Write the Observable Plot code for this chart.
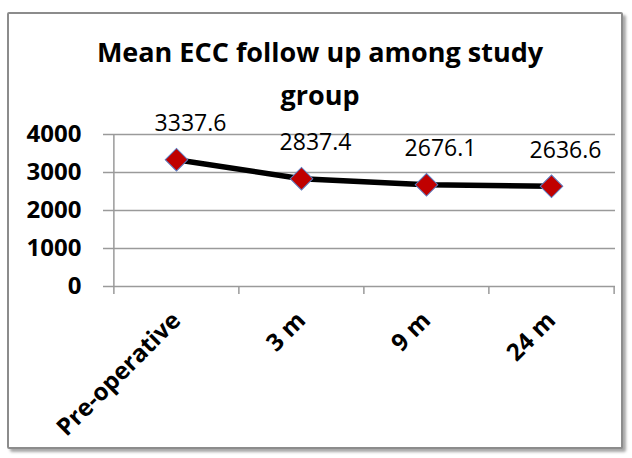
<!DOCTYPE html>
<html>
<head>
<meta charset="utf-8">
<script src="https://cdn.jsdelivr.net/npm/d3@7"></script>
<script src="https://cdn.jsdelivr.net/npm/@observablehq/plot@0.6"></script>
<style>
  html, body { margin: 0; padding: 0; background: #ffffff; }
  #wrap { position: relative; width: 632px; height: 458px; overflow: hidden; background: #fff; }
  #frame {
    position: absolute; left: 7px; top: 12px; width: 612px; height: 433px;
    border: 2px solid #8c8c8c; border-radius: 2px;
    box-shadow: 3px 3px 3px rgba(0,0,0,0.35);
    background: #fff;
  }
  #title {
    position: absolute; left: 40px; top: 30px; width: 560px;
    text-align: center; font-family: "Open Sans", sans-serif; font-weight: 700;
    font-size: 27px; line-height: 43px; color: #000;
  }
  #chart { position: absolute; left: 0; top: 0; }
</style>
</head>
<body>
<div id="wrap">
  <div id="frame"></div>
  <div id="title">Mean ECC follow up among study<br>group</div>
  <div id="chart"></div>
</div>
<script>
const categories = ["Pre-operative", "3 m", "9 m", "24 m"];
const values = [3337.6, 2837.4, 2676.1, 2636.6];
const yTicks = [0, 1000, 2000, 3000, 4000];

const data = categories.map((c, i) => ({cat: c, val: values[i]}));

const W = 632, H = 458, ML = 113, MR = 18, MT = 134, MB = 172;
const bw = (W - ML - MR) / categories.length;
const tickDrop = -210; // y-value a few pixels below zero for tick marks
const font = "Open Sans, sans-serif";

const plot = Plot.plot({
  width: W,
  height: H,
  marginLeft: ML,
  marginRight: MR,
  marginTop: MT,
  marginBottom: MB,
  style: {background: "transparent", overflow: "visible"},
  x: {type: "point", domain: categories, padding: 0.5, label: null},
  y: {domain: [0, 4000], label: null},
  marks: [
    Plot.ruleY(yTicks, {stroke: "#9a9a9a", strokeWidth: 1.5, insetLeft: -10, insetRight: -1}),
    Plot.ruleX([categories[0]], {dx: -bw / 2, y1: tickDrop, y2: 4000, stroke: "#9a9a9a", strokeWidth: 1.5}),
    Plot.ruleX(categories.slice(1), {dx: -bw / 2, y1: tickDrop, y2: 0, stroke: "#9a9a9a", strokeWidth: 1.5}),
    Plot.ruleX([categories[categories.length - 1]], {dx: bw / 2, y1: tickDrop, y2: 0, stroke: "#9a9a9a", strokeWidth: 1.5}),
    Plot.axisY({
      ticks: yTicks, tickSize: 0, tickPadding: 32,
      fontFamily: font, fontWeight: 700, fontSize: 24, fill: "#000",
      tickFormat: d => String(d)
    }),
    Plot.axisX({
      tickSize: 0, tickRotate: -45, tickPadding: 30,
      fontFamily: font, fontWeight: 700, fontSize: 24, fill: "#000"
    }),
    Plot.line(data, {x: "cat", y: "val", stroke: "#000", strokeWidth: 5.5, curve: "linear"}),
    Plot.dot(data, {x: "cat", y: "val", symbol: "square", rotate: 45, r: 9, fill: "#c00000", stroke: "#5b7bc0", strokeWidth: 1}),
    Plot.text(data, {x: "cat", y: "val", text: d => d.val.toFixed(1), dx: 14, dy: -36,
      fontFamily: font, fontSize: 23, fill: "#000"})
  ]
});

document.getElementById("chart").appendChild(plot);
</script>
</body>
</html>
